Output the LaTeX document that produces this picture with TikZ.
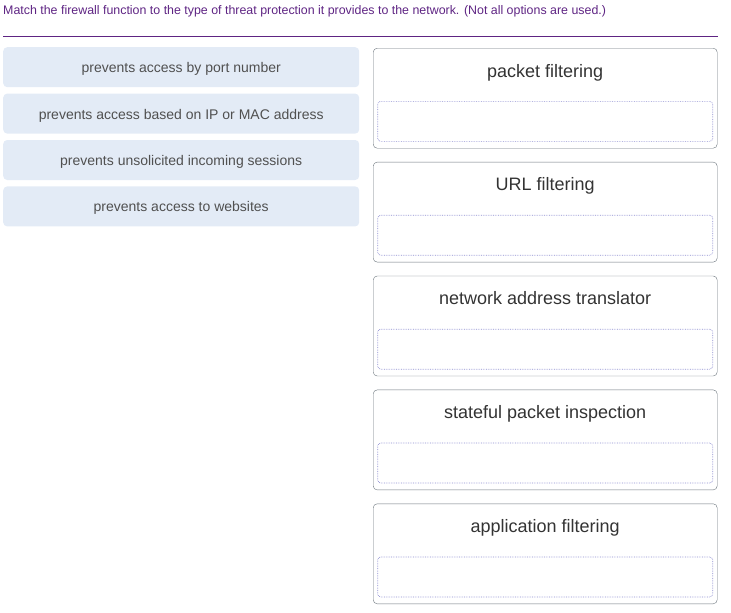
\documentclass[tikz,border=0pt]{standalone}
\usepackage{fontspec}
\setmainfont{Liberation Sans}
\usetikzlibrary{positioning}

\definecolor{qpurple}{HTML}{5E2483}
\definecolor{optfill}{HTML}{E3EBF6}
\definecolor{opttext}{HTML}{505050}
\definecolor{zoneedge}{HTML}{6C757D}
\definecolor{slotedge}{HTML}{8C8CD0}

\begin{document}
\begin{tikzpicture}[
  x=1pt, y=-1pt,
  optbox/.style={
    fill=optfill,
    rounded corners=4pt,
    minimum width=356pt,
    minimum height=40pt,
    inner sep=0pt,
    text height=12pt,
    text depth=1pt,
    text=opttext,
    font=\fontsize{14}{16}\selectfont
  },
  dropzone/.style={
    draw=zoneedge,
    rounded corners=4pt,
    minimum width=344pt,
    minimum height=100pt,
    inner sep=0pt
  },
  zonetitle/.style={
    anchor=base,
    text=black!80,
    font=\fontsize{18}{21}\selectfont
  },
  slotbox/.style={
    draw=slotedge,
    densely dotted,
    line width=0.7pt,
    rounded corners=3pt,
    minimum width=335pt,
    minimum height=40pt,
    inner sep=0pt,
    anchor=north
  }
]
\useasboundingbox (0,0) rectangle (731,613);

% question
\node[anchor=base west, inner sep=0pt, text=qpurple,
      font=\fontsize{12.4}{14}\selectfont] (prompt) at (3,14)
  {Match the firewall function to the type of threat protection it provides to the network. (Not all options are used.)};
\draw[qpurple, line width=1pt] (3,36.5) -- (718,36.5);

% options (left column)
\node[optbox, anchor=north west] (opt1) at (3,47) {prevents access by port number};
\node[optbox, below=6pt of opt1] (opt2) {prevents access based on IP or MAC address};
\node[optbox, below=6pt of opt2] (opt3) {prevents unsolicited incoming sessions};
\node[optbox, below=6pt of opt3] (opt4) {prevents access to websites};

% targets (right column)
\node[dropzone, anchor=north west] (zone1) at (373,48) {};
\node[dropzone, below=13.5pt of zone1] (zone2) {};
\node[dropzone, below=13.5pt of zone2] (zone3) {};
\node[dropzone, below=13.5pt of zone3] (zone4) {};
\node[dropzone, below=13.5pt of zone4] (zone5) {};

\node[zonetitle] (title1) at ([yshift=-29pt]zone1.north) {packet filtering};
\node[zonetitle] (title2) at ([yshift=-29pt]zone2.north) {URL filtering};
\node[zonetitle] (title3) at ([yshift=-29pt]zone3.north) {network address translator};
\node[zonetitle] (title4) at ([yshift=-29pt]zone4.north) {stateful packet inspection};
\node[zonetitle] (title5) at ([yshift=-29pt]zone5.north) {application filtering};

\node[slotbox] (slot1) at ([yshift=-53pt]zone1.north) {};
\node[slotbox] (slot2) at ([yshift=-53pt]zone2.north) {};
\node[slotbox] (slot3) at ([yshift=-53pt]zone3.north) {};
\node[slotbox] (slot4) at ([yshift=-53pt]zone4.north) {};
\node[slotbox] (slot5) at ([yshift=-53pt]zone5.north) {};
\end{tikzpicture}
\end{document}
